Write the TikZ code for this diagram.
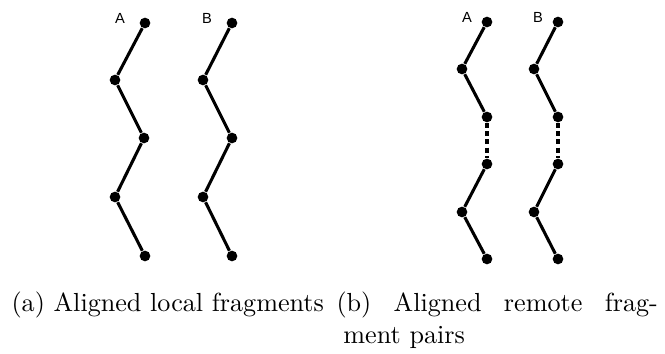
\documentclass[tikz,border=0pt]{standalone}
\usepackage{fontspec}
\newfontfamily\labfont{Liberation Sans}
\begin{document}
\begin{tikzpicture}[x=0.375pt,y=-0.375pt,
  pt/.style={circle,fill=black,inner sep=0pt,minimum size=4pt},
  seg/.style={line width=1.15pt},
  gap/.style={line width=1.15pt,dash pattern=on 1.9pt off 1.2pt},
  lab/.style={font=\labfont\fontsize{5.5pt}{6.5pt}\selectfont,inner sep=0pt},
  captext/.style={inner sep=0pt,anchor=base west,font=\fontsize{9.8pt}{12pt}\selectfont}]
\useasboundingbox (0,0) rectangle (665,354);
% left panel
\node[pt] (a1) at (145,23) {};
\node[pt] (a2) at (115,80) {};
\node[pt] (a3) at (144,138) {};
\node[pt] (a4) at (115,197) {};
\node[pt] (a5) at (145,256) {};
\node[pt] (b1) at (232,23) {};
\node[pt] (b2) at (203,80) {};
\node[pt] (b3) at (232,138) {};
\node[pt] (b4) at (203,197) {};
\node[pt] (b5) at (232,256) {};
\draw[seg] (a1) -- (a2) -- (a3) -- (a4) -- (a5);
\draw[seg] (b1) -- (b2) -- (b3) -- (b4) -- (b5);
\node[lab] (la) at (120,18) {A};
\node[lab] (lb) at (207,18) {B};
% right panel
\node[pt] (c1) at (487,22) {};
\node[pt] (c2) at (462,69) {};
\node[pt] (c3) at (487,117) {};
\node[pt] (c4) at (487,164) {};
\node[pt] (c5) at (462,212) {};
\node[pt] (c6) at (487,259) {};
\node[pt] (d1) at (558,22) {};
\node[pt] (d2) at (534,69) {};
\node[pt] (d3) at (558,117) {};
\node[pt] (d4) at (558,164) {};
\node[pt] (d5) at (534,212) {};
\node[pt] (d6) at (558,259) {};
\draw[seg] (c1) -- (c2) -- (c3);
\draw[gap] (c3) -- (c4);
\draw[seg] (c4) -- (c5) -- (c6);
\draw[seg] (d1) -- (d2) -- (d3);
\draw[gap] (d3) -- (d4);
\draw[seg] (d4) -- (d5) -- (d6);
\node[lab] (lc) at (467,17) {A};
\node[lab] (ld) at (538,17) {B};
% captions
\node[captext] (capa) at (11,312) {(a) Aligned local fragments};
\node[captext] (capb) at (336,312) {\parbox[t]{120.5pt}{(b) Aligned remote frag-\linebreak\hspace*{2.6pt}ment pairs}};
\end{tikzpicture}
\end{document}
